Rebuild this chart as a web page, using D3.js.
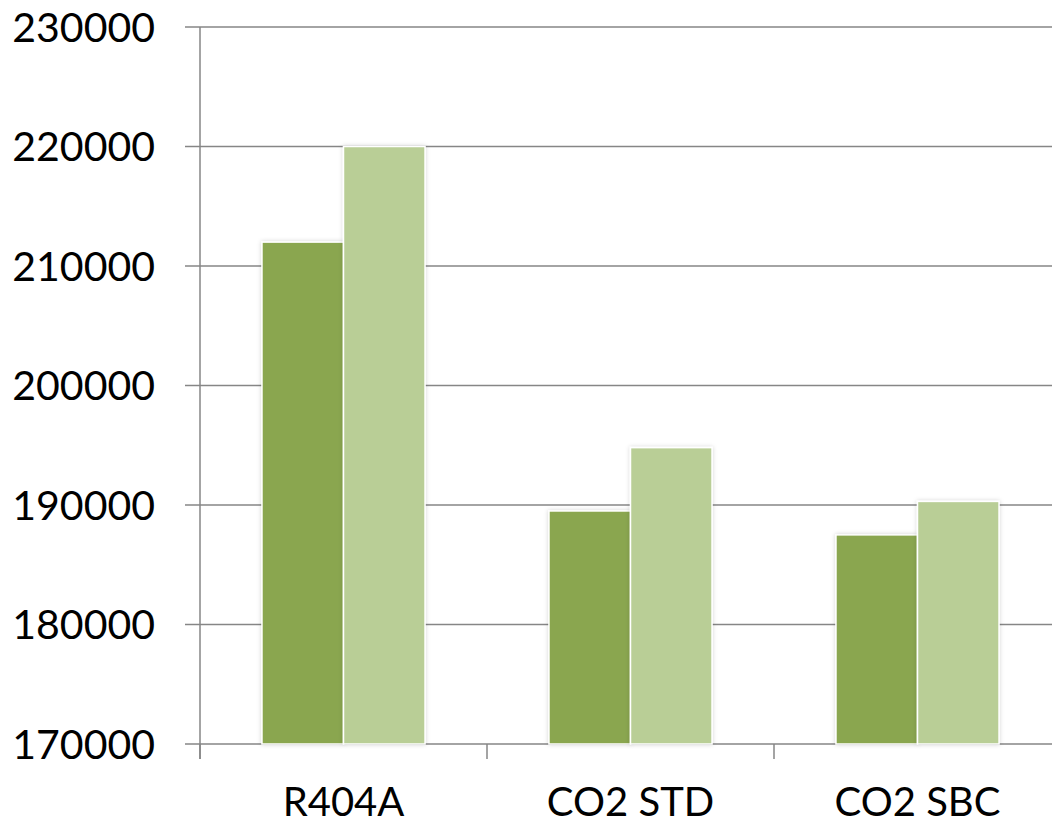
<!DOCTYPE html>
<html><head><meta charset="utf-8">
<script src="https://cdn.jsdelivr.net/npm/d3@7"></script>
<style>html,body{margin:0;padding:0;background:#fff;}svg{display:block;}</style>
</head><body>
<script>
const categories = ["R404A", "CO2 STD", "CO2 SBC"];
const seriesNames = ["Series 1", "Series 2"];
const series1 = [212000, 189500, 187500];
const series2 = [220000, 194800, 190300];
const yTicks = [170000, 180000, 190000, 200000, 210000, 220000, 230000];
const colors = ["#8aa64f", "#b9ce96"];

const W = 1052, H = 826;
const svg = d3.select("body").append("svg").attr("width", W).attr("height", H);

const defs = svg.append("defs");
const f = defs.append("filter").attr("id", "sh").attr("x", "-20%").attr("y", "-20%").attr("width", "140%").attr("height", "140%");
f.append("feDropShadow").attr("dx", 0).attr("dy", 0).attr("stdDeviation", 2).attr("flood-color", "#000").attr("flood-opacity", 0.18);

const x0 = d3.scaleBand().domain(categories).range([200, 1061]).paddingInner(0).paddingOuter(0);
const x1 = d3.scaleBand().domain(seriesNames).range([0, x0.bandwidth()]).paddingInner(0).paddingOuter(0.76);
const y = d3.scaleLinear().domain([170000, 230000]).range([744, 27]);

const grid = "#868686";
// gridlines
svg.append("g").selectAll("line").data(yTicks).join("line")
  .attr("x1", 185).attr("x2", W).attr("y1", d => y(d)).attr("y2", d => y(d))
  .attr("stroke", grid).attr("stroke-width", 1.5);
// y axis line
svg.append("line").attr("x1", 200).attr("x2", 200).attr("y1", y(230000)).attr("y2", 759)
  .attr("stroke", grid).attr("stroke-width", 1.5);
// x ticks
const xt = categories.map(c => x0(c)).concat([x0.range()[1]]);
svg.append("g").selectAll("line").data(xt).join("line")
  .attr("x1", d => d).attr("x2", d => d).attr("y1", y(170000)).attr("y2", 759)
  .attr("stroke", grid).attr("stroke-width", 1.5);

// bars
const data = categories.map((c, i) => ({c, vals: [series1[i], series2[i]]}));
const g = svg.append("g");
data.forEach(d => {
  d.vals.forEach((v, j) => {
    g.append("rect")
      .attr("x", x0(d.c) + x1(seriesNames[j]))
      .attr("y", y(v))
      .attr("width", x1.bandwidth())
      .attr("height", y(170000) - y(v))
      .attr("fill", colors[j])
      .attr("stroke", "#fff").attr("stroke-width", 1.5)
      .attr("filter", "url(#sh)");
  });
});

// y labels
svg.append("g").selectAll("text").data(yTicks).join("text")
  .attr("x", 155).attr("y", d => y(d)).attr("dy", "0.36em")
  .attr("text-anchor", "end")
  .attr("font-family", "Lato, 'Open Sans', sans-serif").attr("font-size", 41).attr("fill", "#000")
  .text(d => d);

// x labels
svg.append("g").selectAll("text").data(categories).join("text")
  .attr("x", d => x0(d) + x0.bandwidth() / 2).attr("y", 816)
  .attr("text-anchor", "middle")
  .attr("font-family", "Lato, 'Open Sans', sans-serif").attr("font-size", 40).attr("fill", "#000")
  .text(d => d);
</script>
</body></html>
